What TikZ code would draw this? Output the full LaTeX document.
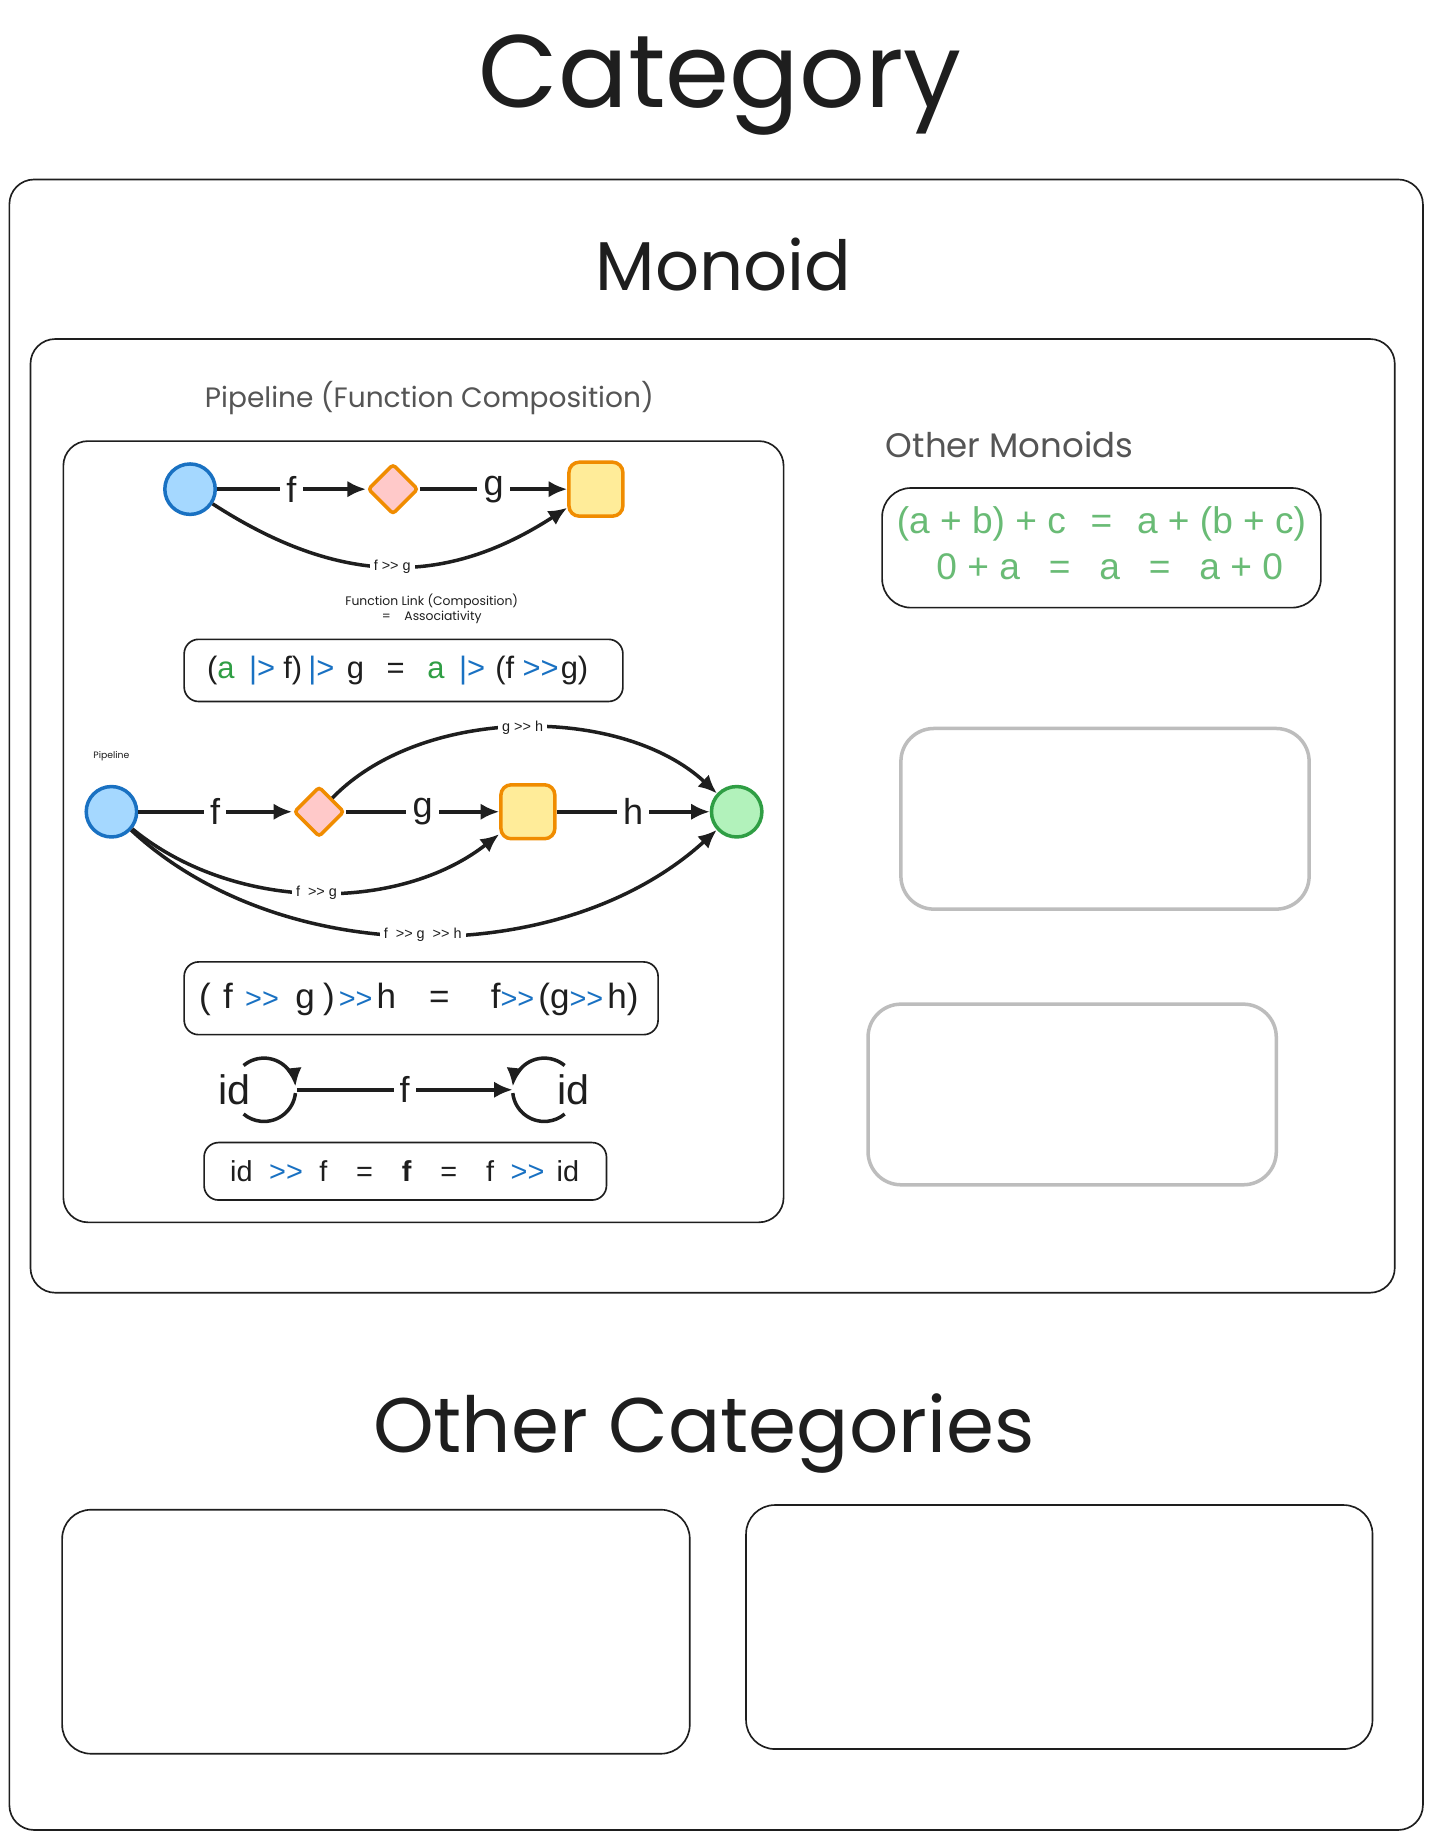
\documentclass[tikz,border=0pt]{standalone}
\usepackage{fontspec}
\setmainfont{Liberation Sans}
\newfontfamily\hand{Poppins}
\usetikzlibrary{shapes.geometric,arrows.meta}
\definecolor{ink}{HTML}{1E1E1E}
\definecolor{blueF}{HTML}{A5D8FF}
\definecolor{blueB}{HTML}{1971C2}
\definecolor{pinkF}{HTML}{FFC9C9}
\definecolor{orangeB}{HTML}{F08C00}
\definecolor{yellowF}{HTML}{FFEC99}
\definecolor{greenF}{HTML}{B2F2BB}
\definecolor{greenB}{HTML}{2F9E44}
\definecolor{lightgreen}{HTML}{69BB75}
\definecolor{grayt}{HTML}{555555}
\definecolor{grayb}{HTML}{BDBDBD}
\newcommand{\dblgt}{>\kern0pt>}
\newcommand{\Bop}[1]{\textcolor{blueB}{#1}}
\newcommand{\Bsm}[1]{{\fontsize{14}{14}\selectfont\textcolor{blueB}{#1}}}
\newcommand{\Gv}[1]{\textcolor{greenB}{#1}}
\begin{document}
\begin{tikzpicture}[x=0.02cm,y=0.02cm,
  box/.style={draw=ink, line width=0.8pt, rounded corners=12pt},
  eqbox/.style={draw=ink, line width=0.8pt, rounded corners=7pt},
  graybox/.style={draw=grayb, line width=1.7pt, rounded corners=16pt},
  arr/.style={draw=ink, line width=1.7pt, -{Latex[length=9pt,width=8pt]}},
  plain/.style={draw=ink, line width=1.7pt},
  lbl/.style={fill=white, inner sep=3pt, font=\fontsize{17.5}{19}\selectfont, text=ink},
  slbl/.style={fill=white, inner sep=2pt, font=\fontsize{7}{8}\selectfont, text=ink},
  bcirc/.style={circle, draw=blueB, fill=blueF, line width=1.7pt, minimum size=0.86cm, inner sep=0pt},
  gcirc/.style={circle, draw=greenB, fill=greenF, line width=1.7pt, minimum size=0.86cm, inner sep=0pt},
  pdiam/.style={diamond, draw=orangeB, fill=pinkF, line width=1.7pt, minimum size=0.86cm, inner sep=0pt, rounded corners=1.5pt},
  ysq/.style={rectangle, draw=orangeB, fill=yellowF, line width=1.7pt, minimum size=0.92cm, inner sep=0pt, rounded corners=5pt},
  eqtext/.style={text=ink, inner sep=0pt},
]
\useasboundingbox (0,0) rectangle (1220,-1566);
\fill[white] (0,0) rectangle (1220,-1566);

% titles
\node[font=\hand\fontsize{50}{50}\selectfont, text=ink, anchor=base] (tcat) at (614,-92) {Category};
\draw[box] (8,-153) rectangle (1213,-1560);
\node[font=\hand\fontsize{33.5}{34}\selectfont, text=ink, anchor=base] (tmon) at (617,-248) {Monoid};
\draw[box] (26,-289) rectangle (1189,-1102);
\node[font=\hand\fontsize{13.6}{14}\selectfont, text=grayt, anchor=base] (tpipe) at (366,-347) {Pipeline (Function Composition)};
\draw[box] (54,-376) rectangle (668,-1042);

% top diagram
\node[bcirc] (a1) at (162,-417) {};
\node[pdiam] (d1) at (335,-417) {};
\node[ysq] (s1) at (508,-417) {};
\draw[arr] (a1) -- node[lbl]{f} (d1);
\draw[arr] (d1) -- node[lbl]{g} (s1);
\draw[arr] (a1) .. controls (290,-500) and (380,-500) .. node[slbl, pos=0.5]{f \dblgt{} g} (s1);

\node[font=\hand\fontsize{6}{8}\selectfont, text=ink, align=center] (tlink) at (368,-519) {Function Link (Composition)\\[-1pt]=\hspace{5pt} Associativity};

% equation 1
\draw[eqbox] (157,-545) rectangle (531,-598);
\node[eqtext, font=\fontsize{15}{17}\selectfont] (eq1) at (339,-572) {(\Gv{a}\hspace{7pt}\Bop{|>}\hspace{4pt}f)\hspace{3pt}\Bop{|>}\hspace{6pt}g\hspace{11pt}=\hspace{11pt}\Gv{a}\hspace{7pt}\Bop{|>}\hspace{5pt}(f\hspace{4pt}\Bop{\dblgt}\hspace{1pt}g)};

% second diagram
\node[font=\hand\fontsize{4.5}{5}\selectfont, text=ink, anchor=base] (tpl) at (95,-647) {Pipeline};
\node[bcirc] (a2) at (95,-692) {};
\node[pdiam] (d2) at (272,-692) {};
\node[ysq] (s2) at (450,-692) {};
\node[gcirc] (g2) at (628,-692) {};
\draw[arr] (a2) -- node[lbl]{f} (d2);
\draw[arr] (d2) -- node[lbl]{g} (s2);
\draw[arr] (s2) -- node[lbl]{h} (g2);
\draw[arr] (d2) .. controls (360,-601) and (530,-601) .. node[slbl, pos=0.5]{g \dblgt{} h} (g2);
\draw[arr] (a2) .. controls (200,-778) and (340,-778) .. node[slbl, pos=0.5]{f \ \dblgt{} g} (s2);
\draw[arr] (a2) .. controls (240,-827) and (480,-827) .. node[slbl, pos=0.5]{f \ \dblgt{} g \ \dblgt{} h} (g2);

% equation 2
\draw[eqbox] (157,-820) rectangle (561,-882);
\node[eqtext, font=\fontsize{17}{19}\selectfont] (eq2) at (357,-852) {(\hspace{6pt}f\hspace{6pt}\Bsm{\dblgt}\hspace{8pt}g\hspace{4pt})\hspace{2pt}\Bsm{\dblgt}\hspace{2pt}h\hspace{16pt}=\hspace{20pt}f\Bsm{\dblgt}\hspace{2pt}(g\Bsm{\dblgt}\hspace{2pt}h)};

% identity
\node[eqtext, font=\fontsize{20}{22}\selectfont] (idL) at (200,-929) {id};
\node[eqtext, font=\fontsize{20}{22}\selectfont] (idR) at (489,-929) {id};
\coordinate (cL) at (225,-929);
\coordinate (cR) at (464,-929);
\draw[arr] ([shift={(130:0.54cm)}]cL) arc[start angle=130, end angle=6, radius=0.54cm];
\draw[plain] ([shift={(-6:0.54cm)}]cL) arc[start angle=-6, end angle=-130, radius=0.54cm];
\draw[arr] ([shift={(50:0.54cm)}]cR) arc[start angle=50, end angle=174, radius=0.54cm];
\draw[plain] ([shift={(186:0.54cm)}]cR) arc[start angle=186, end angle=310, radius=0.54cm];
\coordinate (lR) at (253,-929);
\coordinate (rL) at (437,-929);
\draw[arr] (lR) -- node[lbl]{f} (rL);

% equation 3
\draw[eqbox] (174,-974) rectangle (517,-1023);
\node[eqtext, font=\fontsize{14}{16}\selectfont] (eq3) at (345,-998) {id\hspace{8pt}\Bop{\dblgt}\hspace{8pt}f\hspace{14pt}=\hspace{14pt}\textbf{f}\hspace{14pt}=\hspace{14pt}f\hspace{8pt}\Bop{\dblgt}\hspace{6pt}id};

% right side
\node[font=\hand\fontsize{16.5}{17}\selectfont, text=grayt, anchor=base west] (tother) at (749,-390) {Other Monoids};
\draw[box, rounded corners=14pt] (752,-416) rectangle (1126,-518);
\node[eqtext, text=lightgreen, font=\fontsize{18}{20}\selectfont] (m1) at (939,-447) {(a + b) + c\hspace{12pt}=\hspace{12pt}a + (b + c)};
\node[eqtext, text=lightgreen, font=\fontsize{18}{20}\selectfont] (m2) at (946,-483) {0 + a\hspace{14pt}=\hspace{14pt}a\hspace{14pt}=\hspace{14pt}a + 0};
\draw[graybox] (768,-621) rectangle (1116,-775);
\draw[graybox] (740,-856) rectangle (1088,-1010);

% other categories
\node[font=\hand\fontsize{37.5}{38}\selectfont, text=ink, anchor=base] (tocat) at (600,-1238) {Other Categories};
\draw[box, rounded corners=14pt] (53,-1287) rectangle (588,-1495);
\draw[box, rounded corners=14pt] (636,-1283) rectangle (1170,-1491);
\end{tikzpicture}
\end{document}
